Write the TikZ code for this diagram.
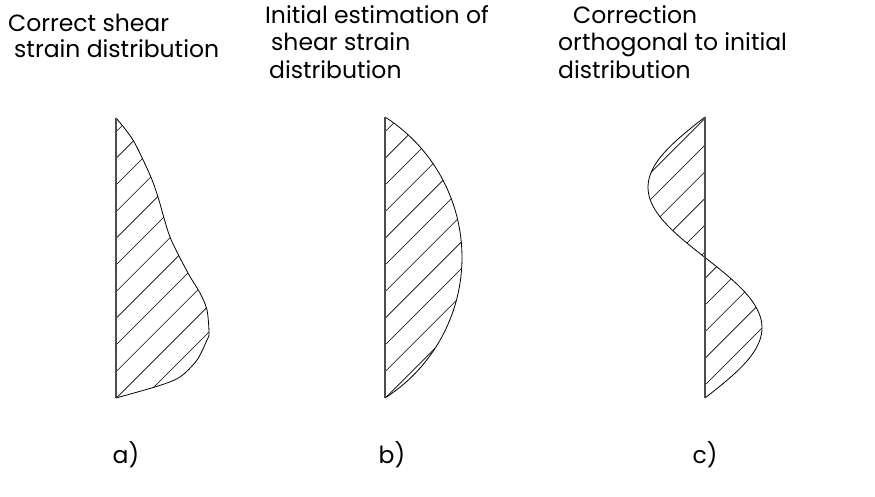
\documentclass[tikz,border=0pt]{standalone}
\usepackage{fontspec}
\setmainfont{Poppins}
\tikzset{
  caption/.style={anchor=base west,inner sep=0pt,font=\fontsize{23.5}{27}\selectfont},
  tag/.style={inner sep=0pt,font=\fontsize{23.5}{27}\selectfont},
  outline/.style={line width=0.8pt},
  axisline/.style={line width=1.3pt,draw=black!70},
  hatch/.style={line width=0.6pt}
}
\begin{document}
\begin{tikzpicture}[x=1pt,y=-1pt]
\useasboundingbox (0,0) rectangle (875,497);
% titles
\node[caption] (ta1) at (8,32) {Correct shear};
\node[caption] (ta2) at (14,58) {strain distribution};
\node[caption] (tb1) at (265,24) {Initial estimation of};
\node[caption] (tb2) at (271,51) {shear strain};
\node[caption] (tb3) at (269,79) {distribution};
\node[caption] (tc1) at (573,24) {Correction};
\node[caption] (tc2) at (558,51) {orthogonal to initial};
\node[caption] (tc3) at (558,79) {distribution};
% a)
\begin{scope}
  \clip plot[smooth] coordinates {(116,118) (133,140) (150,175) (158,197) (170,237) (188,273) (200,293) (207,310) (209,333) (207,340) (197,360) (180,377) (158,386) (116,398)} -- cycle;
  \foreach \k in {0,...,13}{
    \pgfmathsetmacro\c{247.7+26.67*\k}
    \draw[hatch] (\c-420,420) -- (\c-100,100);
  }
\end{scope}
\draw[outline] plot[smooth] coordinates {(116,118) (133,140) (150,175) (158,197) (170,237) (188,273) (200,293) (207,310) (209,333) (207,340) (197,360) (180,377) (158,386) (116,398)};
\draw[axisline] (116,118) -- (116,398);
% b)
\begin{scope}
  \clip plot[domain=-57.4:57.4,samples=60] ({295.3+166.7*cos(\x)},{257.5+166.7*sin(\x)}) -- cycle;
  \foreach \k in {0,...,10}{
    \pgfmathsetmacro\c{516.7+26.67*\k}
    \draw[hatch] (\c-420,420) -- (\c-100,100);
  }
\end{scope}
\draw[outline] plot[domain=-57.4:57.4,samples=60] ({295.3+166.7*cos(\x)},{257.5+166.7*sin(\x)});
\draw[axisline] (385,117) -- (385,398);
% c)
\begin{scope}
  \clip plot[domain=117:398,samples=80] ({705-57*sin((\x-117)*1.2811)},\x) -- cycle;
  \foreach \k in {-1,...,9}{
    \pgfmathsetmacro\c{850+26.67*\k}
    \draw[hatch] (\c-420,420) -- (\c-100,100);
  }
\end{scope}
\draw[outline] plot[domain=117:398,samples=80] ({705-57*sin((\x-117)*1.2811)},\x);
\draw[axisline] (705,117) -- (705,398);
% labels
\node[tag] (la) at (126,455) {a)};
\node[tag] (lb) at (392,455) {b)};
\node[tag] (lc) at (705,455) {c)};
\end{tikzpicture}
\end{document}
